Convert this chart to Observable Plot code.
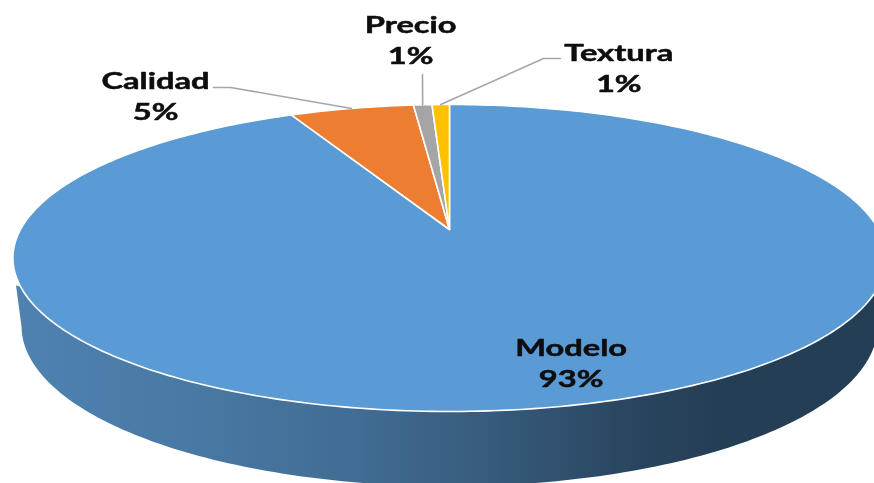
<!DOCTYPE html>
<html>
<head>
<meta charset="utf-8">
<style>html,body{margin:0;padding:0;background:#fff;overflow:hidden}</style>
<script src="https://cdn.jsdelivr.net/npm/d3@7"></script>
<script src="https://cdn.jsdelivr.net/npm/@observablehq/plot@0.6"></script>
</head>
<body>
<div id="chart"></div>
<script>
const categories = ["Modelo", "Calidad", "Precio", "Textura"];
const shares = [92.85, 5.49, 0.82, 0.77];
const colors = ["#5b9bd5", "#ed7d31", "#a5a5a5", "#ffc000"];

const W = 874, H = 483;
const tilt = 0.1857;
const top3d = {cx: 449, cy: 229, A: 429, B: 148.2};
const low3d = {cx: 449, cy: 296, A: 420.5, B: 154.5};
const toUx = px => (px - top3d.cx) / top3d.A;
const toUy = py => (top3d.cy - py) / top3d.B;

// angle t, clockwise from 12 o'clock, mapped onto the tilted disc (unit coordinates of the scales)
function rim(t, r = 1) {
  const u = r * Math.sin(t), v = r * Math.cos(t), w = 1 + tilt * v;
  return {x: u / w, y: v / w};
}
function lowRim(t) {
  const p = rim(t);
  return {x: toUx(low3d.cx + low3d.A * p.x), y: toUy(low3d.cy - low3d.B * p.y)};
}
const deg = Math.PI / 180;
const total = d3.sum(shares);
let acc = 0;
const slices = categories.map((name, i) => {
  const a0 = acc / total * 2 * Math.PI;
  acc += shares[i];
  const a1 = acc / total * 2 * Math.PI;
  const n = Math.max(4, Math.ceil((a1 - a0) / deg));
  const outline = d3.range(n + 1).map(k => rim(a0 + (a1 - a0) * k / n));
  return {name, color: colors[i], pct: Math.round(shares[i]), mid: (a0 + a1) / 2,
          path: [{x: 0, y: 0}, ...outline, {x: 0, y: 0}]};
});

// side wall: front of the top rim and front of the lower rim
const wall = [
  ...d3.range(110, 250, 1).map(d => rim(d * deg)),
  {x: toUx(15.5), y: toUy(285)},
  ...d3.range(259, 100, -1).map(d => lowRim(d * deg))
];

// label placement relative to the rim point of the slice's middle angle
const labelLayout = {
  Modelo:  {dx: 6,    dy: -44},
  Calidad: {dx: -196, dy: -14},
  Precio:  {dx: -12,  dy: -66},
  Textura: {dx: 178,  dy: -38}
};
const leaderLayout = {
  Calidad: [[213, 87], [230, 87]],
  Precio:  [[422, 74]],
  Textura: [[560, 58], [543, 58]]
};

const gradient = () => {
  const defs = d3.create("svg:defs");
  const g = defs.append("linearGradient").attr("id", "wallGrad")
    .attr("gradientUnits", "userSpaceOnUse")
    .attr("x1", 15).attr("x2", 874).attr("y1", 0).attr("y2", 0);
  [[0, "#4f82b0"], [0.2, "#4979a5"], [0.4, "#416c93"], [0.55, "#375b7c"], [0.72, "#29455f"], [0.82, "#243e55"], [1, "#243e55"]]
    .forEach(([o, c]) => g.append("stop").attr("offset", o).attr("stop-color", c));
  return defs.node();
};

const marks = [
  gradient,
  Plot.line(wall, {x: "x", y: "y", fill: "url(#wallGrad)", stroke: "none", curve: "linear"})
];
for (const s of slices) {
  marks.push(Plot.line(s.path, {x: "x", y: "y", fill: s.color, stroke: "#fff", strokeWidth: 1.6,
    strokeLinejoin: "round", curve: "linear"}));
}
for (const s of slices) {
  const via = leaderLayout[s.name];
  if (via) {
    const pts = [...via.map(([px, py]) => ({x: toUx(px), y: toUy(py)})), rim(s.mid)];
    marks.push(Plot.line(pts, {x: "x", y: "y", stroke: "#a6a6a6", strokeWidth: 1.6, curve: "linear"}));
  }
}
for (const s of slices) {
  const p = rim(s.mid), l = labelLayout[s.name];
  marks.push(Plot.text([{...p, label: s.name + "\n" + s.pct + "%"}], {
    x: "x", y: "y", text: "label", dx: l.dx, dy: l.dy,
    fontFamily: "Lato", fontWeight: 700, fontSize: 23, lineHeight: 1.35,
    fill: "#0d0d0d", stroke: "#0d0d0d", strokeWidth: 0.5, textAnchor: "middle", className: "lbl"
  }));
}

const plot = Plot.plot({
  width: W, height: H, margin: 0,
  style: {background: "#fff", overflow: "hidden"},
  x: {axis: null, domain: [-1, 1], range: [top3d.cx - top3d.A, top3d.cx + top3d.A]},
  y: {axis: null, domain: [-1, 1], range: [top3d.cy + top3d.B, top3d.cy - top3d.B]},
  marks
});
// the reference's lettering is stretched sideways and slightly soft
plot.querySelectorAll("g.lbl text").forEach(t => {
  t.setAttribute("transform", (t.getAttribute("transform") || "") + " scale(1.42,1)");
  t.style.filter = "blur(0.5px)";
});
document.getElementById("chart").appendChild(plot);
</script>
</body>
</html>
